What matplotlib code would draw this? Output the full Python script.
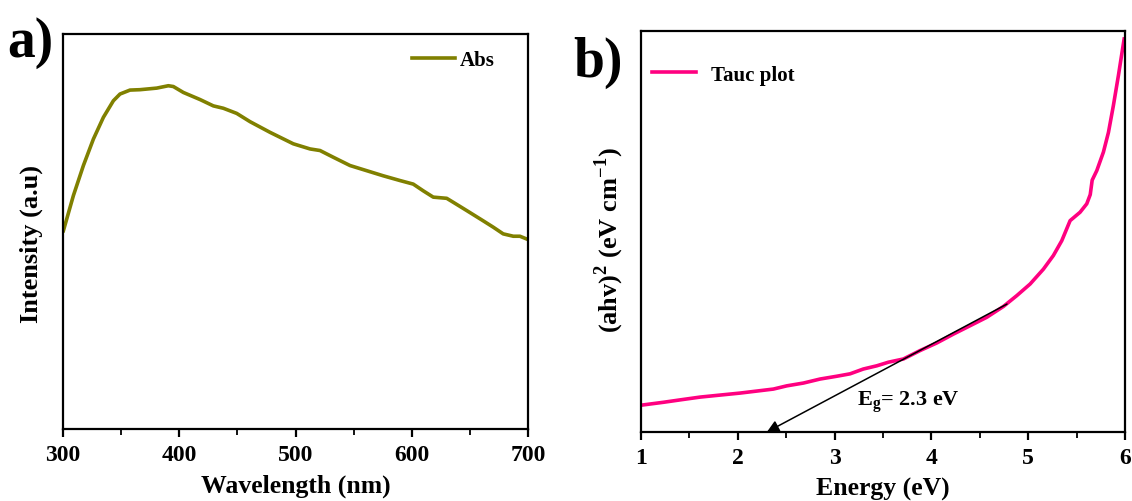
import matplotlib
matplotlib.use('Agg')
import matplotlib.pyplot as plt
from matplotlib.ticker import MultipleLocator

plt.rcParams['font.family'] = ['Liberation Serif', 'DejaVu Serif']
plt.rcParams['font.weight'] = 'bold'
plt.rcParams['mathtext.fontset'] = 'custom'
plt.rcParams['mathtext.rm'] = 'Liberation Serif:bold'
plt.rcParams['mathtext.bf'] = 'Liberation Serif:bold'

# a) absorbance spectrum (arbitrary units)
wavelength = [300.3, 308.9, 317.5, 326.1, 334.7, 343.3, 349.0, 357.6, 366.2, 380.6,
              390.6, 394.9, 403.5, 417.9, 429.3, 437.9, 449.4, 460.9, 478.1, 498.1,
              512.5, 521.1, 532.5, 546.9, 561.2, 575.5, 589.9, 601.3, 609.9, 618.5,
              630.1, 635.7, 647.3, 661.5, 670.1, 678.7, 687.4, 693.1, 698.9]
absorb = [0.502, 0.591, 0.667, 0.734, 0.789, 0.831, 0.848, 0.858, 0.859, 0.863,
          0.869, 0.867, 0.852, 0.834, 0.818, 0.812, 0.799, 0.778, 0.751, 0.722,
          0.709, 0.705, 0.688, 0.667, 0.654, 0.641, 0.629, 0.620, 0.603, 0.587,
          0.584, 0.574, 0.553, 0.527, 0.511, 0.494, 0.488, 0.488, 0.481]

# b) Tauc plot
energy = [1.007, 1.230, 1.403, 1.610, 1.816, 2.023, 2.195, 2.367, 2.505, 2.677,
          2.849, 3.022, 3.159, 3.296, 3.435, 3.555, 3.710, 3.882, 4.055, 4.226,
          4.399, 4.571, 4.743, 4.881, 5.019, 5.156, 5.259, 5.346, 5.432, 5.535,
          5.604, 5.640, 5.660, 5.708, 5.776, 5.828, 5.879, 5.931, 5.990]
tauc = [0.067, 0.074, 0.080, 0.087, 0.092, 0.097, 0.102, 0.107, 0.115, 0.122,
        0.132, 0.139, 0.145, 0.157, 0.165, 0.174, 0.182, 0.203, 0.222, 0.244,
        0.265, 0.286, 0.313, 0.340, 0.369, 0.406, 0.440, 0.477, 0.527, 0.548,
        0.569, 0.592, 0.628, 0.652, 0.698, 0.747, 0.814, 0.889, 0.980]

# linear fit line (end points) and band gap
fit_x = [4.78, 2.3]
fit_y = [0.319, 0.0]
eg = 2.3

fig = plt.figure(figsize=(11.32, 5.02), dpi=100)
ax1 = fig.add_axes([0.0557, 0.1434, 0.4107, 0.7869])
ax2 = fig.add_axes([0.5663, 0.1375, 0.4276, 0.7988])

def style(ax):
    for s in ax.spines.values():
        s.set_linewidth(1.6)
    ax.tick_params(axis='x', which='major', direction='out', length=6, width=1.6,
                   labelsize=17, pad=5)
    ax.tick_params(axis='x', which='minor', direction='out', length=4, width=1.3)
    ax.tick_params(axis='y', which='both', left=False, labelleft=False)
    for lab in ax.get_xticklabels():
        lab.set_fontweight('bold')

# panel a
ax1.plot(wavelength, absorb, color='#808000', lw=2.6, label='Abs')
ax1.set_xlim(300, 700)
ax1.set_ylim(0, 1)
ax1.xaxis.set_major_locator(MultipleLocator(100))
ax1.xaxis.set_minor_locator(MultipleLocator(50))
style(ax1)
ax1.set_xlabel('Wavelength (nm)', fontsize=18.5, fontweight='bold', labelpad=6)
ax1.set_ylabel('Intensity (a.u)', fontsize=19, fontweight='bold')
ax1.yaxis.set_label_coords(-0.043, 0.47)
ax1.legend(loc='upper right', frameon=False, fontsize=15, handlelength=2.1,
           handletextpad=0.2, borderaxespad=0, bbox_to_anchor=(0.946, 0.98))
fig.text(0.006, 0.886, 'a)', fontsize=40, fontweight='bold')

# panel b
ax2.plot(energy, tauc, color='#FF0080', lw=2.6, label='Tauc plot')
ax2.annotate('', xy=(eg, fit_y[1]), xytext=(fit_x[0], fit_y[0]),
             arrowprops=dict(arrowstyle='-|>', color='black', lw=1.1,
                             mutation_scale=18, shrinkA=0, shrinkB=0))
ax2.text(3.23, 0.075, r'E$_\mathregular{g}$= 2.3 eV', fontsize=16, fontweight='bold',
         va='center')
ax2.set_xlim(1, 6)
ax2.set_ylim(0, 1)
ax2.xaxis.set_major_locator(MultipleLocator(1))
ax2.xaxis.set_minor_locator(MultipleLocator(0.5))
style(ax2)
ax2.set_xlabel('Energy (eV)', fontsize=18.5, fontweight='bold', labelpad=6)
ax2.set_ylabel(r'(ahv)$^\mathregular{2}$ (eV cm$^\mathregular{-1}$)', fontsize=19,
               fontweight='bold')
ax2.yaxis.set_label_coords(-0.031, 0.48)
ax2.legend(loc='upper left', frameon=False, fontsize=15, handlelength=2.1,
           handletextpad=0.7, borderaxespad=0, bbox_to_anchor=(0.006, 0.937))
fig.text(0.506, 0.848, 'b)', fontsize=40, fontweight='bold')

fig.savefig('out.png', dpi=100)
